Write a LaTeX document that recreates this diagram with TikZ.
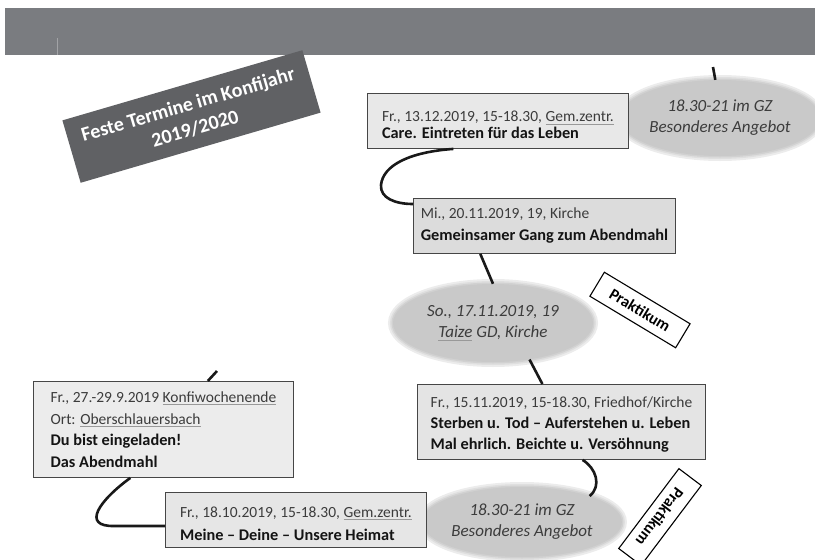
\documentclass[tikz,border=0pt]{standalone}
\usepackage{fontspec}
\setmainfont{Carlito}
\usetikzlibrary{shapes.geometric,calc}
\definecolor{barcol}{RGB}{122,124,128}
\definecolor{titlecol}{RGB}{96,97,100}
\definecolor{ellcol}{RGB}{201,201,201}
\definecolor{boxline}{RGB}{70,70,70}
\definecolor{txtgray}{RGB}{60,60,60}
\definecolor{fillA}{RGB}{232,232,232}
\definecolor{fillB}{RGB}{220,220,220}
\definecolor{fillC}{RGB}{236,236,236}
\definecolor{fillD}{RGB}{228,228,228}
\definecolor{fillE}{RGB}{230,230,230}
\newsavebox\gulbox
\newcommand{\gul}[1]{\leavevmode\sbox\gulbox{#1}\rlap{\textcolor{black!40}{\rule[-2.6pt]{\wd\gulbox}{0.7pt}}}\usebox\gulbox}
\newcommand{\bt}[1]{{\fontsize{16.3}{20}\selectfont\textcolor{black!92}{\textbf{#1}}}}
\begin{document}
\begin{tikzpicture}[x=1pt,y=-1pt,
  evbox/.style={draw=boxline, line width=0.9pt, fill=#1, anchor=north west, align=left,
    inner sep=0pt, text=txtgray, font=\fontsize{15.5}{21}\selectfont},
  ell/.style={ellipse, fill=ellcol, inner sep=0pt, align=center, text=txtgray,
    font=\itshape\fontsize{17}{21}\selectfont,
    preaction={draw=ellcol!35!white, line width=10pt},
    preaction={draw=ellcol!60!white, line width=6pt},
    preaction={draw=ellcol!85!white, line width=3pt}},
  conn/.style={line width=2.6pt, draw=black!90},
  prak/.style={draw=black, line width=1.1pt, fill=white, minimum width=100pt,
    minimum height=28pt, inner sep=0pt, font=\bfseries\fontsize{16}{18}\selectfont},
  titlebox/.style={fill=titlecol, text=white, align=center, inner sep=0pt,
    font=\bfseries\fontsize{20}{25}\selectfont}]
\useasboundingbox (0,0) rectangle (815,560);
% top bar
\fill[barcol] (5,8) rectangle (815,55);
\draw[barcol!70!white, line width=1pt] (57,38) -- (57,55);
% title
\node[titlebox, rotate=16.3, minimum width=250pt, minimum height=65pt] (ttl) at (191.5,116.5)
  {Feste Termine im Konfijahr\\2019/2020};
% ellipses
\node[ell, minimum width=174pt, minimum height=76pt] (G1) at (720,118) {18.30-21 im GZ\\Besonderes Angebot};
\node[ell, minimum width=200pt, minimum height=78pt] (T) at (493,323) {So., 17.11.2019, 19\\\gul{Taize} GD, Kirche};
\node[ell, minimum width=183pt, minimum height=70pt] (G3) at (522,522) {18.30-21 im GZ\\Besonderes Angebot};
% boxes
\node[evbox=fillA, minimum width=261pt, minimum height=55pt, font=\fontsize{15.5}{17}\selectfont] (A) at (367,93)
  {\rule{0pt}{19pt}Fr., 13.12.2019, 15-18.30, \gul{Gem.zentr.}\\\bt{Care. Eintreten für das Leben}};
\node[evbox=fillB, minimum width=262pt, minimum height=55pt, font=\fontsize{15.5}{22}\selectfont] (B) at (413,198)
  {Mi., 20.11.2019, 19, Kirche\\\bt{Gemeinsamer Gang zum Abendmahl}};
\node[evbox=fillD, minimum width=288pt, minimum height=75pt] (D) at (417,384)
  {\rule{0pt}{15pt}Fr., 15.11.2019, 15-18.30, Friedhof/Kirche\\\bt{Sterben u. Tod – Auferstehen u. Leben}\\\bt{Mal ehrlich. Beichte u. Versöhnung}};
\node[evbox=fillC, minimum width=260pt, minimum height=96pt, font=\fontsize{15.5}{21.5}\selectfont] (C) at (33,381)
  {Fr., 27.-29.9.2019 \gul{Konfiwochenende}\\Ort: \gul{Oberschlauersbach}\\\bt{Du bist eingeladen!}\\\bt{Das Abendmahl}};
\node[evbox=fillE, minimum width=261pt, minimum height=55pt, font=\fontsize{15.5}{23}\selectfont] (E) at (165,492)
  {\rule{0pt}{18pt}Fr., 18.10.2019, 15-18.30, \gul{Gem.zentr.}\\\bt{Meine – Deine – Unsere Heimat}};
% Praktikum labels
\node[prak, rotate=-31] (P1) at (640,310) {Praktikum};
\node[prak, rotate=233] (P2) at (660,517) {Praktikum};
% connectors
\coordinate (s1) at (713,67);
\coordinate (s2) at (217,371);
\draw[conn] (G1.97) -- (s1);
\draw[conn] ($(A.south west)!0.33!(A.south east)$) .. controls (410,152) and (383,165) .. (381,185)
  .. controls (380,198) and (395,204) .. ($(B.north west)+(0,6)$);
\draw[conn] ($(B.south west)!0.256!(B.south east)$) -- (T.north);
\draw[conn] (T.-45) -- ($(D.north west)!0.434!(D.north east)$);
\draw[conn] ($(D.south west)!0.573!(D.south east)$) .. controls (596,468) and (602,486) .. (G3.21);
\draw[conn] ($(C.north west)!0.67!(C.north east)$) -- (s2);
\draw[conn] ($(C.south west)!0.373!(C.south east)$) .. controls (100,500) and (80,527) .. (115,526)
  -- ($(E.west)+(0,6)$);
\end{tikzpicture}
\end{document}
